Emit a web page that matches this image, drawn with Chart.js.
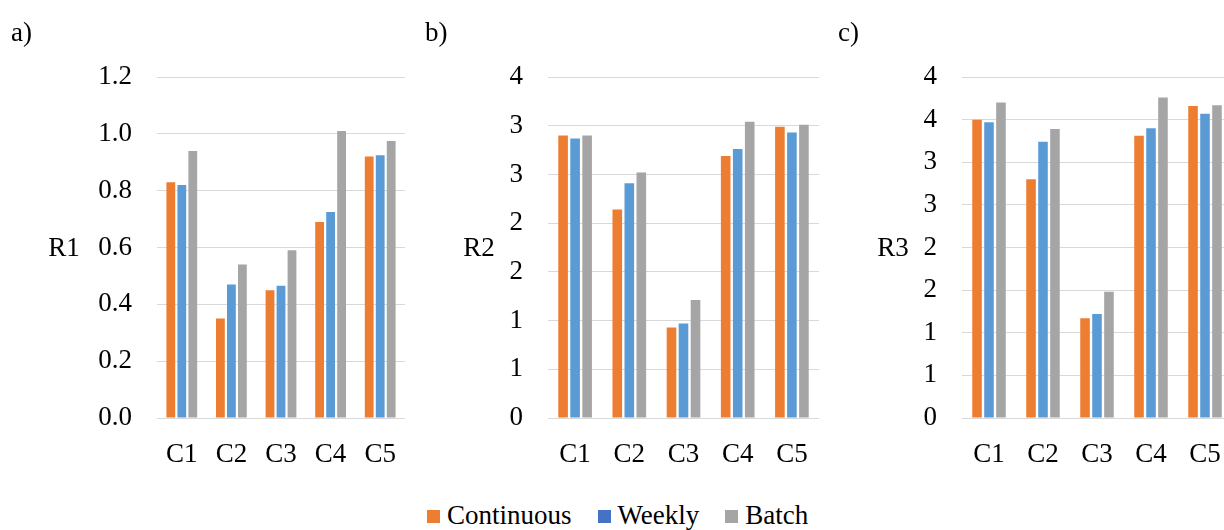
<!DOCTYPE html>
<html>
<head>
<meta charset="utf-8">
<script src="https://cdn.jsdelivr.net/npm/chart.js@4.4.1/dist/chart.umd.min.js"></script>
<style>
  html, body { margin: 0; padding: 0; background: #fff; }
  body { width: 1224px; height: 530px; position: relative; overflow: hidden; font-family: "Liberation Serif", "Times New Roman", serif; color: #000; }
  .panel { position: absolute; top: 0; height: 480px; }
  .plabel { position: absolute; top: 19px; font-size: 27px; line-height: 27px; }
  #legend { position: absolute; left: 427px; top: 500px; display: flex; align-items: center; font-size: 27px; line-height: 30px; white-space: nowrap; }
  #legend .item { display: flex; align-items: center; margin-right: 26px; }
  #legend .sw { width: 13px; height: 13px; margin-right: 7px; position: relative; top: 1.5px; }
</style>
</head>
<body>
<div class="panel" style="left:0;width:410px;"><canvas id="cA" width="410" height="480"></canvas></div>
<div class="panel" style="left:410px;width:410px;"><canvas id="cB" width="410" height="480"></canvas></div>
<div class="panel" style="left:820px;width:420px;"><canvas id="cC" width="420" height="480"></canvas></div>
<div class="plabel" style="left:11px;">a)</div>
<div class="plabel" style="left:425px;">b)</div>
<div class="plabel" style="left:838px;">c)</div>
<div id="legend"></div>
<script>
// ---- data ----
const categories = ['C1', 'C2', 'C3', 'C4', 'C5'];
const seriesNames = ['Continuous', 'Weekly', 'Batch'];

const r1Continuous = [0.83, 0.35, 0.45, 0.69, 0.92];
const r1Weekly     = [0.82, 0.47, 0.465, 0.725, 0.925];
const r1Batch      = [0.94, 0.54, 0.59, 1.01, 0.975];

const r2Continuous = [2.90, 2.14, 0.93, 2.69, 2.99];
const r2Weekly     = [2.87, 2.41, 0.97, 2.76, 2.93];
const r2Batch      = [2.90, 2.52, 1.21, 3.04, 3.01];

const r3Continuous = [3.50, 2.80, 1.17, 3.31, 3.66];
const r3Weekly     = [3.47, 3.24, 1.22, 3.40, 3.57];
const r3Batch      = [3.70, 3.39, 1.48, 3.76, 3.67];

const r1Ticks = ['0.0', '0.2', '0.4', '0.6', '0.8', '1.0', '1.2'];
const r2Ticks = ['0', '1', '1', '2', '2', '3', '3', '4'];
const r3Ticks = ['0', '1', '1', '2', '2', '3', '3', '4', '4'];

// ---- styles ----
const barColors = ['#ED7D31', '#5B9BD5', '#A5A5A5'];
const legendColors = ['#ED7D31', '#4472C4', '#A5A5A5'];
const FONT = '"Liberation Serif", "Times New Roman", serif';
const FS = 27;

Chart.defaults.font.family = FONT;
Chart.defaults.font.size = FS;
Chart.defaults.color = '#000';

const sideTitle = {
  id: 'sideTitle',
  afterDraw(chart, args, opts) {
    const { ctx, chartArea } = chart;
    ctx.save();
    ctx.font = FS + 'px ' + FONT;
    ctx.fillStyle = '#000';
    ctx.textAlign = 'center';
    ctx.textBaseline = 'middle';
    ctx.fillText(opts.text, opts.x, (chartArea.top + chartArea.bottom) / 2 + 1);
    ctx.restore();
  }
};

function makeChart(id, series, max, step, tickLabels, yWidth, padRight, title, titleX) {
  return new Chart(document.getElementById(id), {
    type: 'bar',
    data: {
      labels: categories,
      datasets: series.map((d, i) => ({
        label: seriesNames[i],
        data: d,
        backgroundColor: barColors[i],
        borderWidth: 0,
        categoryPercentage: 0.665,
        barPercentage: 0.8
      }))
    },
    options: {
      responsive: false,
      animation: false,
      events: [],
      layout: { padding: { left: 0, right: padRight, top: 77, bottom: 0 } },
      plugins: {
        legend: { display: false },
        tooltip: { enabled: false },
        sideTitle: { text: title, x: titleX }
      },
      scales: {
        x: {
          grid: { display: false, drawTicks: false },
          border: { display: false },
          ticks: { padding: 21, color: '#000', font: { size: FS } },
          afterFit(s) { s.height = 62; s.paddingLeft = 0; s.paddingRight = 0; }
        },
        y: {
          min: 0,
          max: max,
          grid: { color: '#D9D9D9', lineWidth: 1, drawTicks: false },
          border: { display: false },
          ticks: {
            stepSize: step,
            padding: 25,
            color: '#000',
            font: { size: FS },
            callback: (v, idx) => tickLabels[idx] !== undefined ? tickLabels[idx] : v
          },
          afterFit(s) { s.width = yWidth; }
        }
      }
    },
    plugins: [sideTitle]
  });
}

makeChart('cA', [r1Continuous, r1Weekly, r1Batch], 1.2, 0.2, r1Ticks, 157, 5, 'R1', 64);
makeChart('cB', [r2Continuous, r2Weekly, r2Batch], 3.5, 0.5, r2Ticks, 138, 1, 'R2', 479 - 410);
makeChart('cC', [r3Continuous, r3Weekly, r3Batch], 4.0, 0.5, r3Ticks, 142, 8, 'R3', 893 - 820);

// ---- shared legend ----
const lg = document.getElementById('legend');
seriesNames.forEach((n, i) => {
  const it = document.createElement('span');
  it.className = 'item';
  const sw = document.createElement('span');
  sw.className = 'sw';
  sw.style.background = legendColors[i];
  const tx = document.createElement('span');
  tx.textContent = n;
  it.appendChild(sw);
  it.appendChild(tx);
  lg.appendChild(it);
});
</script>
</body>
</html>
